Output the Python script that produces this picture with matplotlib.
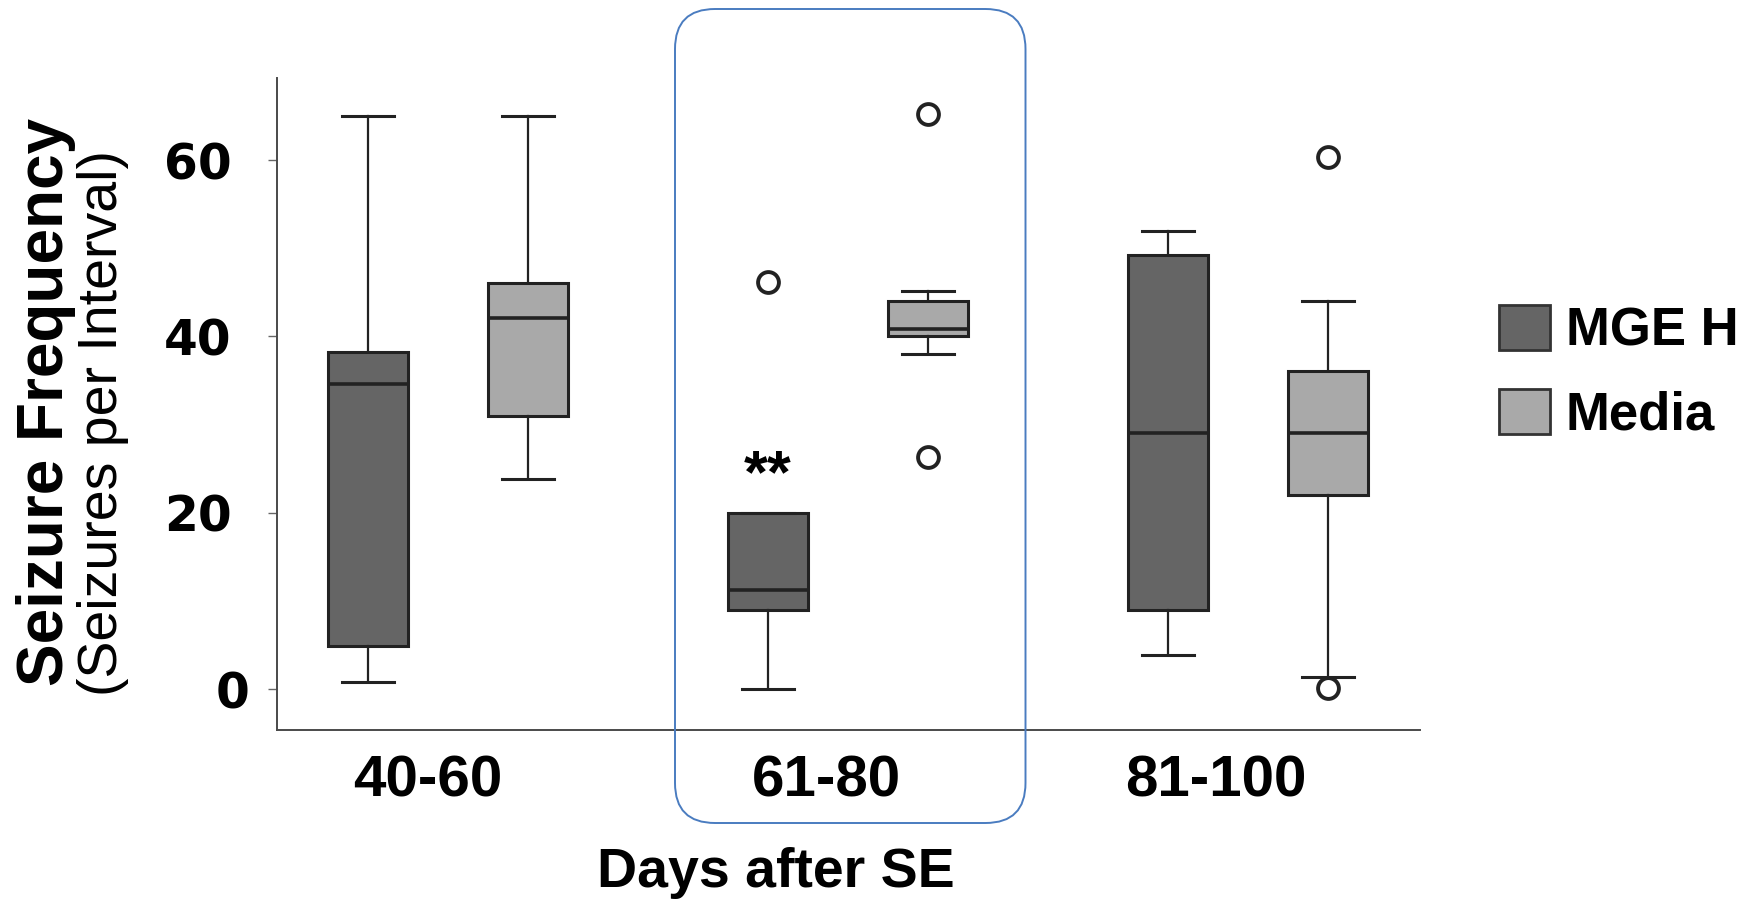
import matplotlib
matplotlib.use("Agg")
import matplotlib.pyplot as plt
from matplotlib.patches import Patch, FancyBboxPatch
from matplotlib.transforms import ScaledTranslation

intervals = ["40-60", "61-80", "81-100"]
groups = ["MGE H", "Media"]
colors = ["#656565", "#a9a9a9"]

# box stats (whisker low, Q1, median, Q3, whisker high, outliers)
mge_lo = [0.9, 0.0, 3.9]
mge_q1 = [4.9, 9.0, 9.0]
mge_med = [34.6, 11.3, 29.1]
mge_q3 = [38.2, 20.0, 49.2]
mge_hi = [65.0, 20.0, 52.0]
mge_out = [[], [46.2], []]

media_lo = [23.9, 38.0, 1.4]
media_q1 = [31.0, 40.1, 22.0]
media_med = [42.1, 40.9, 29.1]
media_q3 = [46.1, 44.0, 36.1]
media_hi = [65.0, 45.1, 44.0]
media_out = [[], [65.2, 26.3], [60.3, 0.2]]

yticks = [0, 20, 40, 60]


def make_stats(lo, q1, med, q3, hi, out):
    return [dict(whislo=a, q1=b, med=c, q3=d, whishi=e, fliers=f)
            for a, b, c, d, e, f in zip(lo, q1, med, q3, hi, out)]


arial = "Liberation Sans"
fig = plt.figure(figsize=(17.54, 9.02), dpi=100)
ax = fig.add_axes([0.1579, 0.1911, 0.6517, 0.7225])

edge = "#222222"
all_stats = [make_stats(mge_lo, mge_q1, mge_med, mge_q3, mge_hi, mge_out),
             make_stats(media_lo, media_q1, media_med, media_q3, media_hi, media_out)]
offsets = [-0.2, 0.2]
for st, off, col in zip(all_stats, offsets, colors):
    pos = [i + off for i in range(len(intervals))]
    bp = ax.bxp(st, positions=pos, widths=0.2, capwidths=0.13, patch_artist=True,
                boxprops=dict(edgecolor=edge, linewidth=2.2),
                whiskerprops=dict(color=edge, linewidth=1.6),
                capprops=dict(color=edge, linewidth=2.2),
                medianprops=dict(color=edge, linewidth=2.6),
                flierprops=dict(marker="o", markerfacecolor="white", markeredgecolor=edge,
                                markersize=15, markeredgewidth=2.8))
    for b in bp["boxes"]:
        b.set_facecolor(col)

ax.set_xlim(-0.4275, 2.43)
ax.set_ylim(-4.55, 69.3)

for s in ["top", "right"]:
    ax.spines[s].set_visible(False)
for s in ["left", "bottom"]:
    ax.spines[s].set_color("#4a4a4a")
    ax.spines[s].set_linewidth(1.4)

ax.set_xticks([-0.05, 0.945, 1.92])
ax.set_xticklabels(intervals, fontsize=42, fontweight="bold", family=arial)
ax.tick_params(axis="x", length=0, pad=18)

ax.set_yticks(yticks)
ax.set_yticklabels([str(v) for v in yticks], fontsize=35, fontweight="bold", family="DejaVu Sans")
ax.tick_params(axis="y", length=6.5, width=1, color="#666666", pad=26)
zero = ax.get_yticklabels()[0]
zero.set_transform(zero.get_transform() + ScaledTranslation(0.18, 0, fig.dpi_scale_trans))

ax.text(0.8, 22.4, "**", ha="center", va="baseline", fontsize=44, fontweight="bold", family=arial)

fig.text(0.0265, 0.554, "Seizure Frequency", rotation=90, ha="center", va="center",
         fontsize=46, fontweight="bold", family=arial)
fig.text(0.059, 0.531, "(Seizures per Interval)", rotation=90, ha="center", va="center",
         fontsize=40, family=arial)
fig.text(0.4424, 0.0166, "Days after SE", ha="center", va="baseline",
         fontsize=40, fontweight="bold", family=arial)

handles = [Patch(facecolor=c, edgecolor="#333333", linewidth=2, label=g) for g, c in zip(groups, colors)]
fig.legend(handles=handles, loc="upper left", bbox_to_anchor=(0.8546, 0.6619), frameon=False,
           prop=dict(family=arial, weight="bold", size=38), handlelength=0.97, handleheight=0.95,
           handletextpad=0.3, labelspacing=0.6, borderpad=0, borderaxespad=0)

# highlight box round the 61-80 group
hl = FancyBboxPatch((6.75, 0.79), 3.505, 8.14, boxstyle="round,pad=0,rounding_size=0.4",
                    transform=fig.dpi_scale_trans, facecolor="none", edgecolor="#4a7cc0",
                    linewidth=1.4)
fig.add_artist(hl)

fig.savefig("out.png", dpi=100)
